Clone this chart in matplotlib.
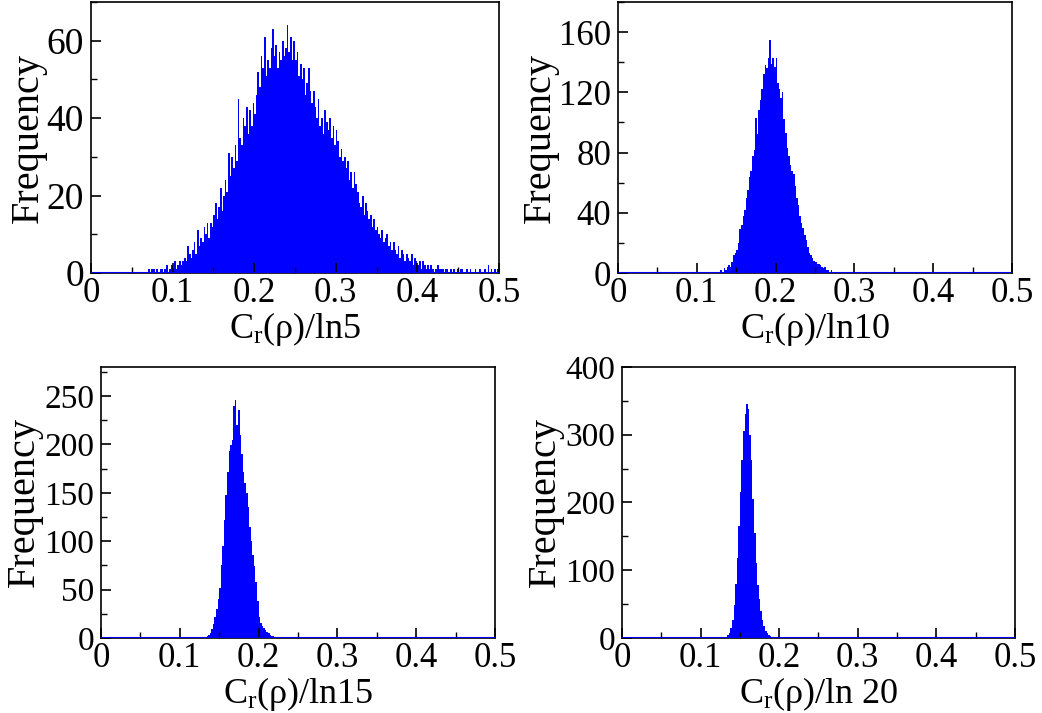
import numpy as np
import matplotlib.pyplot as plt
from matplotlib.ticker import MultipleLocator

plt.rcParams['font.family'] = ['Liberation Serif', 'DejaVu Serif']
plt.rcParams['mathtext.fontset'] = 'custom'
plt.rcParams['mathtext.rm'] = 'Liberation Serif'
plt.rcParams['mathtext.it'] = 'Liberation Serif'
plt.rcParams['mathtext.default'] = 'regular'

BIN = 0.002

# ---- histogram counts (bin width 0.002) ----
start_5 = 0.070
counts_5 = [
    1, 0, 1, 1, 0, 1, 0, 1, 1, 0,
    1, 2, 0, 1, 2, 1, 3, 1, 2, 3,
    2, 3, 4, 3, 7, 5, 4, 6, 8, 5,
    11, 7, 9, 8, 12, 10, 13, 9, 13, 12,
    15, 18, 14, 17, 22, 16, 20, 24, 21, 31,
    25, 30, 27, 33, 29, 45, 35, 33, 40, 38,
    43, 36, 42, 38, 44, 41, 46, 52, 48, 56,
    53, 61, 51, 55, 53, 58, 63, 56, 59, 53,
    57, 55, 60, 56, 58, 64, 57, 61, 55, 60,
    55, 57, 51, 54, 50, 53, 46, 49, 53, 47,
    44, 47, 43, 40, 45, 38, 40, 36, 42, 39,
    37, 40, 35, 38, 33, 37, 34, 30, 32, 29,
    30, 27, 29, 24, 26, 22, 26, 23, 21, 18,
    17, 20, 15, 18, 16, 14, 15, 12, 14, 11,
    12, 10, 9, 11, 8, 9, 10, 7, 8, 6,
    8, 6, 5, 7, 4, 6, 5, 3, 5, 4,
    3, 5, 2, 4, 3, 2, 3, 1, 3, 2,
    1, 2, 1, 2, 1, 0, 1, 2, 1, 1,
    1, 0, 1, 1, 0, 1, 0, 1, 0, 1,
    0, 1, 1, 0, 0, 1, 0, 1, 0, 0,
    1, 0, 0, 1, 0, 0, 1, 0, 2, 0,
    1, 0, 1, 0, 1,
]

start_10 = 0.120
counts_10 = [
    1, 0, 0, 1, 1, 2, 1, 3, 2, 4,
    5, 4, 7, 12, 13, 15, 20, 29, 32, 38,
    42, 50, 55, 64, 68, 78, 82, 103, 92, 108,
    115, 122, 132, 138, 136, 143, 155, 139, 143, 137,
    143, 126, 122, 116, 120, 102, 93, 83, 78, 72,
    68, 66, 58, 50, 45, 38, 33, 30, 25, 22,
    17, 13, 12, 10, 8, 7, 6, 6, 5, 4,
    3, 4, 2, 2, 1, 2, 1, 1, 0, 1,
    0, 0, 1, 0, 0, 1, 0, 0, 0, 0,
]

start_15 = 0.130
counts_15 = [
    1, 1, 2, 3, 5, 9, 14, 22, 30, 40,
    52, 75, 95, 122, 148, 172, 193, 199, 205, 240,
    246, 220, 236, 210, 190, 172, 160, 150, 135, 115,
    100, 86, 74, 58, 38, 22, 16, 12, 10, 8,
    6, 5, 3, 2, 2, 1, 1, 0, 1, 0,
]

start_20 = 0.126
counts_20 = [
    0, 1,
    1, 2, 4, 8, 15, 26, 48, 80, 118, 165,
    215, 262, 305, 330, 346, 338, 300, 262, 205, 155,
    110, 78, 58, 40, 26, 17, 11, 7, 4, 3,
    2, 1, 1, 0, 1,
]

xlabels = [r'C$_{r}$(ρ)/ln5', r'C$_{r}$(ρ)/ln10', r'C$_{r}$(ρ)/ln15', r'C$_{r}$(ρ)/ln 20']
ylims = [70, 180, 280, 400]
ymajor = [20, 40, 50, 100]
yminor = [10, 20, 25, 50]
ytick_size = [27, 25, 24, 24]
ylabel_pad = [0, 0, 1, 1]

# axes boxes in figure fraction [left, bottom, width, height]
boxes = [
    [0.0873, 0.6171, 0.3916, 0.3801],
    [0.5931, 0.6171, 0.3781, 0.3801],
    [0.0969, 0.1052, 0.3781, 0.3801],
    [0.5969, 0.1052, 0.3772, 0.3801],
]

data = [(start_5, counts_5), (start_10, counts_10),
        (start_15, counts_15), (start_20, counts_20)]

fig = plt.figure(figsize=(10.42, 7.13), dpi=100)

for i, (start, counts) in enumerate(data):
    ax = fig.add_axes(boxes[i])
    counts = np.array(counts, dtype=float)
    edges = start + BIN * np.arange(len(counts) + 1)
    ax.stairs(counts, edges, fill=True, color='#0000ff', linewidth=0)
    ax.axhline(0, color='#0000ff', linewidth=1.5, zorder=3)

    ax.set_xlim(0, 0.5)
    ax.set_ylim(0, ylims[i])
    ax.xaxis.set_major_locator(MultipleLocator(0.1))
    ax.xaxis.set_minor_locator(MultipleLocator(0.05))
    ax.yaxis.set_major_locator(MultipleLocator(ymajor[i]))
    ax.yaxis.set_minor_locator(MultipleLocator(yminor[i]))
    ax.xaxis.set_major_formatter(plt.FuncFormatter(lambda v, p: f'{v:g}'))
    ax.tick_params(which='major', direction='in', length=7, width=1.2)
    ax.tick_params(which='minor', direction='in', length=4, width=1.0)
    ax.tick_params(axis='x', labelsize=25, pad=3)
    ax.tick_params(axis='y', labelsize=ytick_size[i], pad=5)
    ax.tick_params(top=False, right=False)
    for s in ax.spines.values():
        s.set_linewidth(1.2)

    ax.set_xlabel(xlabels[i], fontsize=26, labelpad=0)
    ax.set_ylabel('Frequency', fontsize=29, labelpad=ylabel_pad[i])

fig.savefig('out.png', dpi=100)
